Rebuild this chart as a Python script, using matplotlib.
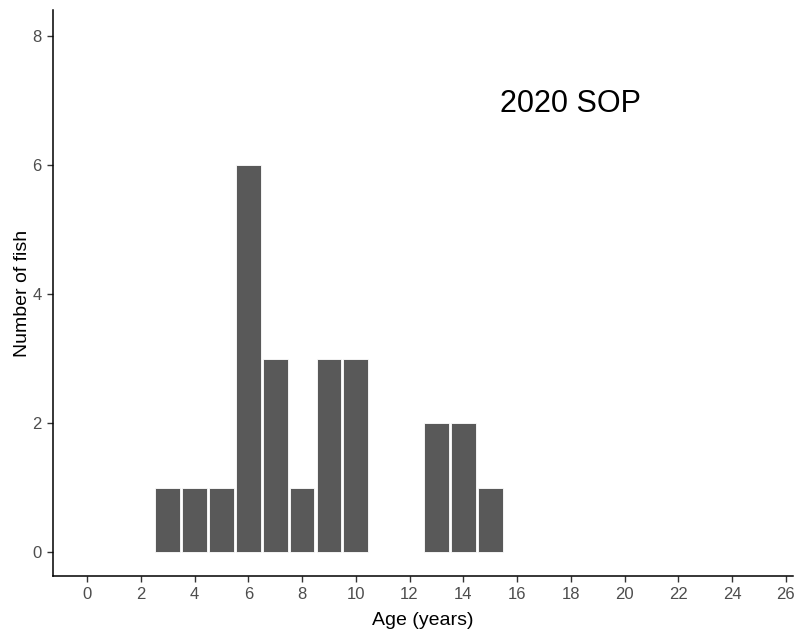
import matplotlib
matplotlib.use("Agg")
import matplotlib.pyplot as plt

# fish counts per age class
ages = [3, 4, 5, 6, 7, 8, 9, 10, 13, 14, 15]
counts = [1, 1, 1, 6, 3, 1, 3, 3, 2, 2, 1]
x_ticks = list(range(0, 27, 2))
y_ticks = [0, 2, 4, 6, 8]

plt.rcParams['font.family'] = ['Liberation Sans', 'DejaVu Sans']

fig = plt.figure(figsize=(7.99, 6.31), dpi=100)
ax = fig.add_axes([0.0663, 0.0872, 0.9262, 0.8968])

ax.bar(ages, counts, width=0.92, color='#595959', edgecolor='white', linewidth=0.6)

ax.set_xlim(-1.27, 26.27)
ax.set_ylim(-0.37, 8.4)
ax.set_xticks(x_ticks)
ax.set_yticks(y_ticks)

for side in ['top', 'right']:
    ax.spines[side].set_visible(False)
for side in ['left', 'bottom']:
    ax.spines[side].set_linewidth(1.1)
    ax.spines[side].set_color('black')

ax.tick_params(axis='both', length=4, width=1.0, color='#333333',
               labelcolor='#4d4d4d', labelsize=12, pad=4)

ax.set_xlabel('Age (years)', fontsize=14, color='black')
ax.set_ylabel('Number of fish', fontsize=14, color='black')
ax.yaxis.set_label_coords(-0.030, 0.5)
ax.xaxis.set_label_coords(0.5, -0.064)

ax.text(18, 6.95, '2020 SOP', fontsize=22, ha='center', va='center',
        color='black', fontweight='medium')

fig.savefig('out.png', dpi=100)
